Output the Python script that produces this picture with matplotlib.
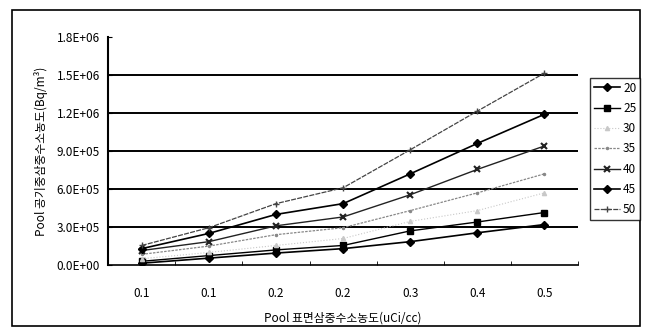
import numpy as np
import matplotlib
matplotlib.use("Agg")
import matplotlib.pyplot as plt
from matplotlib.ticker import FuncFormatter
from matplotlib.patches import Rectangle

plt.rcParams['font.family'] = ['Noto Sans CJK KR', 'DejaVu Sans']

# x categories (surface tritium concentration, as labelled)
xlabels = ['0.1', '0.1', '0.2', '0.2', '0.3', '0.4', '0.5']
series_names = ['20', '25', '30', '35', '40', '45', '50']

s20 = [1.5e4, 5.5e4, 9.5e4, 1.3e5, 1.85e5, 2.55e5, 3.2e5]
s25 = [3.0e4, 7.5e4, 1.2e5, 1.55e5, 2.7e5, 3.4e5, 4.15e5]
s30 = [5.0e4, 1.0e5, 1.55e5, 2.1e5, 3.45e5, 4.3e5, 5.7e5]
s35 = [8.5e4, 1.5e5, 2.4e5, 2.95e5, 4.3e5, 5.7e5, 7.2e5]
s40 = [1.15e5, 1.85e5, 3.1e5, 3.8e5, 5.55e5, 7.55e5, 9.4e5]
s45 = [1.3e5, 2.5e5, 4.0e5, 4.85e5, 7.2e5, 9.6e5, 1.19e6]
s50 = [1.55e5, 2.95e5, 4.85e5, 6.1e5, 9.1e5, 1.215e6, 1.515e6]

fig = plt.figure(figsize=(6.48, 3.36), dpi=100)
ax = fig.add_axes([0.167, 0.211, 0.725, 0.679])

x = np.arange(len(xlabels))
styles = [
    dict(color='black', marker='D', ms=4, lw=1.2),
    dict(color='black', marker='s', ms=4.5, lw=1.0),
    dict(color='#c8c8c8', marker='^', ms=3, lw=0.8, ls=':'),
    dict(color='#888888', marker='.', ms=3, lw=0.9, ls=(0, (2, 1))),
    dict(color='#222222', marker='x', ms=4, mew=1.5, lw=1.0),
    dict(color='black', marker='D', ms=4, lw=1.2),
    dict(color='#444444', marker='+', ms=5, lw=0.9, ls=(0, (4, 1))),
]
data = [s20, s25, s30, s35, s40, s45, s50]
for vals, name, st in zip(data, series_names, styles):
    ax.plot(x, vals, label=name, **st)

ax.set_xlim(-0.5, len(xlabels) - 0.5)
ax.set_ylim(0, 1.8e6)
ax.set_yticks(np.arange(0, 1.8e6 + 1, 3e5))
ax.yaxis.set_major_formatter(FuncFormatter(lambda v, p: f"{v:.1E}"))
ax.set_xticks(x)
ax.set_xticklabels(xlabels)
ax.set_xticks(np.arange(-0.5, len(xlabels), 1), minor=True)
ax.tick_params(axis='x', which='major', length=0, pad=16, labelsize=8.5)
ax.tick_params(axis='x', which='minor', direction='in', length=3)
ax.tick_params(axis='y', direction='in', length=3, labelsize=8.5, pad=6)

ax.grid(axis='y', color='black', lw=1.4)
ax.get_ygridlines()[-1].set_visible(False)
ax.get_ygridlines()[0].set_visible(False)
ax.set_axisbelow(True)
for side in ['top', 'right']:
    ax.spines[side].set_visible(False)
ax.spines['left'].set_linewidth(1.5)
ax.spines['bottom'].set_linewidth(1.2)

ax.set_xlabel('Pool 표면삼중수소농도(uCi/cc)', fontsize=8.5, labelpad=8)
ax.set_ylabel('Pool 공기중삼중수소농도(Bq/m³)', fontsize=8.5, labelpad=6)

leg = fig.legend(loc='upper left', bbox_to_anchor=(590 / 648, 1 - 78 / 336),
                 fontsize=8.5, frameon=True, fancybox=False, edgecolor='black',
                 handlelength=2.2, handletextpad=0.3, borderpad=0.3,
                 labelspacing=0.62, borderaxespad=0)
leg.get_frame().set_linewidth(1.0)

fig.patches.append(Rectangle((12 / 648, 10 / 336), 628 / 648, 316 / 336,
                             transform=fig.transFigure, fill=False,
                             edgecolor='black', lw=1.2))

fig.savefig('out.png', dpi=100)
